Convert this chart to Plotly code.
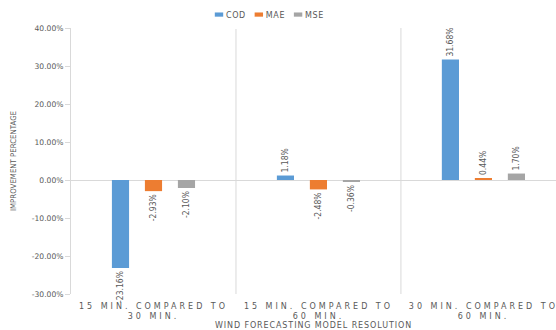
import plotly.graph_objects as go

# Improvement of each error metric between forecasting resolutions (%)
categories = ["15 MIN. COMPARED TO<br>30 MIN.",
              "15 MIN. COMPARED TO<br>60 MIN.",
              "30 MIN. COMPARED TO<br>60 MIN."]
cod = [-23.16, 1.18, 31.68]
mae = [-2.93, -2.48, 0.44]
mse = [-2.10, -0.36, 1.70]

series = [("COD", cod, "#5B9BD5"), ("MAE", mae, "#ED7D31"), ("MSE", mse, "#A5A5A5")]

y_ticks = [-30, -20, -10, 0, 10, 20, 30, 40]
y_tick_text = [f"{v:.2f}%" for v in y_ticks]

GREY_TXT = "#595959"
LIGHT = "#D9D9D9"
NARROW = "DejaVu Sans Condensed, Liberation Sans Narrow, DejaVu Sans"

fig = go.Figure()
for name, vals, color in series:
    fig.add_trace(go.Bar(
        name=name,
        x=list(range(len(categories))),
        y=vals,
        marker=dict(color=color, line=dict(width=0)),
        text=[f"{v:.2f}%" for v in vals],
        textposition="outside",
        textangle=-90,
        constraintext="none",
        cliponaxis=False,
        textfont=dict(family=NARROW, size=8.5, color=GREY_TXT),
    ))

# light separators between category groups
for xb in [0.5, 1.5]:
    fig.add_shape(type="line", xref="x", yref="paper", x0=xb, x1=xb, y0=0, y1=1,
                  line=dict(color=LIGHT, width=1), layer="below")

fig.update_layout(
    width=556, height=330,
    margin=dict(l=71, r=0, t=28, b=36, autoexpand=False),
    paper_bgcolor="white", plot_bgcolor="white",
    barmode="group", bargap=0.4, bargroupgap=0.48,
    font=dict(family="DejaVu Sans", color=GREY_TXT),
    legend=dict(orientation="h", xref="paper", yref="paper",
                x=0.43, xanchor="center", y=1.105, yanchor="top",
                font=dict(family="DejaVu Sans", size=8, color=GREY_TXT),
                itemwidth=30),
    showlegend=True,
)
fig.update_xaxes(
    tickmode="array", tickvals=list(range(len(categories))), ticktext=categories,
    range=[-0.5, 2.44], showgrid=False, zeroline=False, showline=False,
    ticks="", ticklabelstandoff=6, automargin=False,
    tickfont=dict(family="DejaVu Sans", size=8, color=GREY_TXT),
    title=dict(text="WIND FORECASTING MODEL RESOLUTION", standoff=4,
               font=dict(family="DejaVu Sans", size=8, color=GREY_TXT)),
)
fig.update_yaxes(
    range=[-30, 40], tickmode="array", tickvals=y_ticks, ticktext=y_tick_text,
    showgrid=False, zeroline=True, zerolinecolor=LIGHT, zerolinewidth=1,
    showline=True, linecolor=LIGHT, linewidth=1,
    ticks="outside", ticklen=5, tickcolor=LIGHT, automargin=False,
    tickfont=dict(family="DejaVu Sans", size=7.6, color=GREY_TXT),
    title=dict(text="IMPROVEMENT PERCENTAGE", standoff=14,
               font=dict(family=NARROW, size=7.8, color=GREY_TXT)),
)

# letter spacing for category labels / axis title; compact legend with flat swatches
post = """
var gd = document.getElementById('{plot_id}');
gd.querySelectorAll('.xtick text').forEach(function(t){ t.style.letterSpacing = '3px'; });
var xt = gd.querySelector('.xtitle'); if (xt) { xt.style.letterSpacing = '0.9px'; }
var items = gd.querySelectorAll('.legend .traces');
var x = 0;
items.forEach(function(it){
  var lt = it.querySelector('.legendtext');
  lt.style.letterSpacing = '0.6px';
  it.querySelectorAll('.legendpoints path').forEach(function(p){
    p.setAttribute('transform', 'translate(33,0) scale(0.7,0.35)');
  });
  it.setAttribute('data-base', it.getAttribute('transform') || '');
});
items.forEach(function(it){
  var lt = it.querySelector('.legendtext');
  var r = lt.getBoundingClientRect();
  var first = items[0].querySelector('.legendtext').getBoundingClientRect();
  // place each entry right after the previous one
  var dx = (first.left + x) - r.left;
  it.setAttribute('transform', it.getAttribute('data-base') + ' translate(' + dx + ',0)');
  x += lt.getComputedTextLength() + 20;
});
var lg = gd.querySelector('g.legend');
var t0 = items.length ? items[0].querySelector('.legendtext') : null;
if (lg && t0) {
  var dx0 = 234 - t0.getBoundingClientRect().left;
  lg.setAttribute('transform', (lg.getAttribute('transform') || '') +
                  ' translate(' + dx0 + ',0)');
}
"""

fig.write_html("out.html", post_script=post)
